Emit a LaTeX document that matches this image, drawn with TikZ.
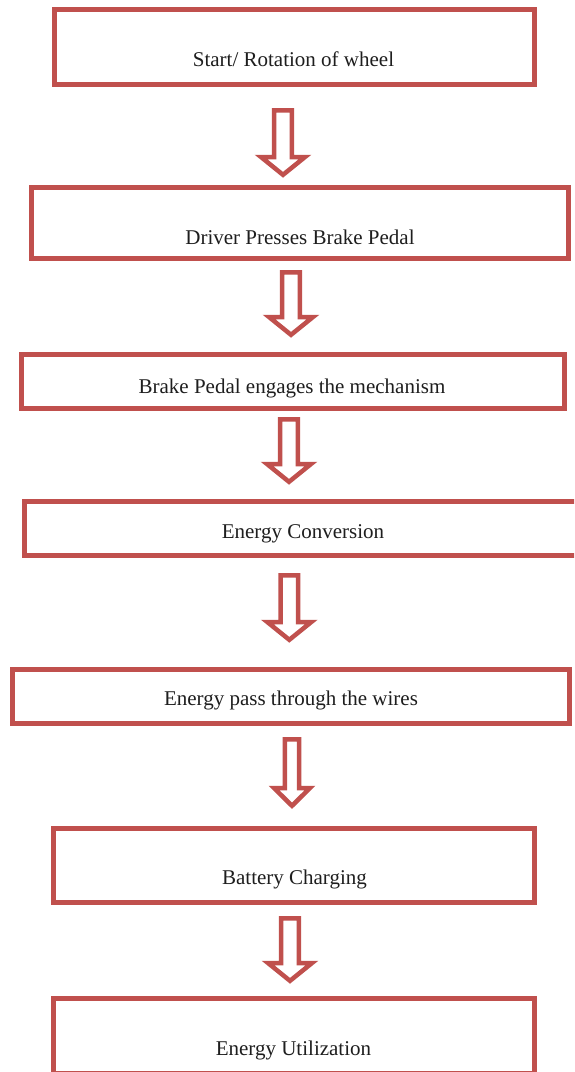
\documentclass[tikz,border=0pt]{standalone}
\usepackage{fontspec}
\setmainfont{Liberation Serif}
\definecolor{boxred}{HTML}{C0504D}
\definecolor{txt}{HTML}{1E1E1E}
\tikzset{
  stepbox/.style={draw=boxred, line width=5pt, fill=white, inner sep=0pt, rectangle},
  steptext/.style={anchor=base, inner sep=0pt, text=txt, font=\fontsize{21}{25}\selectfont},
  arrowline/.style={draw=boxred, line width=4.5pt, fill=white, miter limit=10},
  pics/blockarrow/.style n args={2}{code={
    \draw[arrowline] (-0.4*#2,2.25) -- (0.4*#2,2.25) -- (0.4*#2,#1-21) -- (#2,#1-21)
      -- (0,#1-3.2) -- (-#2,#1-21) -- (-0.4*#2,#1-21) -- cycle;
  }}
}
\begin{document}
\begin{tikzpicture}[x=1pt,y=-1pt]
\useasboundingbox (0,0) rectangle (574,1072);
\clip (0,0) rectangle (574,1072);
\fill[white] (0,0) rectangle (574,1072);

% boxes
\node[stepbox, minimum width=480pt, minimum height=75pt] (b1) at (294.5,47) {};
\node[stepbox, minimum width=537pt, minimum height=70.7pt] (b2) at (300.4,222.9) {};
\node[stepbox, minimum width=543pt, minimum height=54pt] (b3) at (293,381.5) {};
\node[stepbox, minimum width=557pt, minimum height=54pt] (b4) at (303,528.8) {};
\node[stepbox, minimum width=556.7pt, minimum height=53.7pt] (b5) at (291.2,696.7) {};
\node[stepbox, minimum width=480.7pt, minimum height=74.3pt] (b6) at (294.2,865.4) {};
\node[stepbox, minimum width=480.4pt, minimum height=75pt] (b7) at (294,1036) {};

% texts
\node[steptext] (t1) at (293.5,66) {Start/ Rotation of wheel};
\node[steptext] (t2) at (300,244) {Driver Presses Brake Pedal};
\node[steptext] (t3) at (292,393) {Brake Pedal engages the mechanism};
\node[steptext] (t4) at (303,538) {Energy Conversion};
\node[steptext] (t5) at (291,705) {Energy pass through the wires};
\node[steptext] (t6) at (294.5,884) {Battery Charging};
\node[steptext] (t7) at (293.5,1055) {Energy Utilization};

% block arrows
\pic (a1) at (283,108) {blockarrow={70}{22}};
\pic (a2) at (291,270) {blockarrow={68}{22}};
\pic (a3) at (289,417) {blockarrow={68}{22}};
\pic (a4) at (289.3,573) {blockarrow={70}{22}};
\pic (a5) at (292,737) {blockarrow={72}{18}};
\pic (a6) at (290,916) {blockarrow={68}{22}};
\end{tikzpicture}
\end{document}
